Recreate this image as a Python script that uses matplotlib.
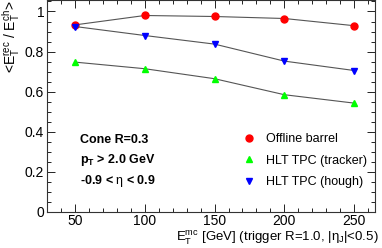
import matplotlib
matplotlib.use("Agg")
import matplotlib.pyplot as plt
from matplotlib.lines import Line2D
from matplotlib.ticker import MultipleLocator

plt.rcParams['font.family'] = ['Liberation Sans', 'DejaVu Sans']
plt.rcParams['mathtext.fontset'] = 'custom'
plt.rcParams['mathtext.rm'] = 'Liberation Sans'
plt.rcParams['mathtext.it'] = 'Liberation Sans'
plt.rcParams['mathtext.bf'] = 'Liberation Sans:bold'

et_mc = [50, 100, 150, 200, 250]
offline_barrel = [0.933, 0.980, 0.975, 0.965, 0.929]
hlt_tracker = [0.747, 0.714, 0.664, 0.584, 0.542]
hlt_hough = [0.925, 0.880, 0.837, 0.752, 0.705]

series = [
    ("Offline barrel", offline_barrel, "#ff0000", "o"),
    ("HLT TPC (tracker)", hlt_tracker, "#00ff00", "^"),
    ("HLT TPC (hough)", hlt_hough, "#0000ff", "v"),
]

fig = plt.figure(figsize=(3.82, 2.48), dpi=100)
ax = fig.add_axes([0.123, 0.147, 0.859, 0.851])

handles = []
for name, vals, col, mk in series:
    ax.plot(et_mc, vals, color="#555555", lw=0.8, marker=mk, ms=5,
            markerfacecolor=col, markeredgecolor=col, zorder=3)
    handles.append(Line2D([], [], ls="none", marker=mk, ms=5,
                          markerfacecolor=col, markeredgecolor=col))

ax.set_xlim(30, 265)
ax.set_ylim(0, 1.055)
ax.xaxis.set_major_locator(MultipleLocator(50))
ax.xaxis.set_minor_locator(MultipleLocator(10))
ax.yaxis.set_major_locator(MultipleLocator(0.2))
ax.yaxis.set_minor_locator(MultipleLocator(0.05))
ax.tick_params(which="both", direction="in", top=True, right=True,
               labelsize=10, pad=2, width=0.6)
ax.tick_params(which="major", length=6)
ax.tick_params(which="minor", length=3)
ax.set_yticks([0, 0.2, 0.4, 0.6, 0.8, 1.0])
ax.set_yticklabels(["0", "0.2", "0.4", "0.6", "0.8", "1"])
for s in ax.spines.values():
    s.set_linewidth(0.8)
    s.set_color("#333333")

ax.set_xlabel(r"E$_{\rm T}^{\rm mc}$ [GeV] (trigger R=1.0, |$\eta_{\rm J}$|<0.5)",
              fontsize=9.5, loc="right", labelpad=1)
ax.xaxis.set_label_coords(1.012, -0.085)
ax.set_ylabel(r"<E$_{\rm T}^{\rm rec}$ / E$_{\rm T}^{\rm ch}$>",
              fontsize=10, loc="top", labelpad=2)

ax.text(0.10, 0.338, "Cone R=0.3", transform=ax.transAxes,
        fontsize=9, fontweight="bold", va="center")
ax.text(0.10, 0.243, r"p$_{\bf T}$ > 2.0 GeV", transform=ax.transAxes,
        fontsize=9, fontweight="bold", va="center")
ax.text(0.10, 0.144, r"-0.9 < $\eta$ < 0.9", transform=ax.transAxes,
        fontsize=9, fontweight="bold", va="center")

ax.legend(handles, [s[0] for s in series], loc="upper left",
          bbox_to_anchor=(0.58, 0.395), frameon=False, fontsize=9,
          handlelength=1.0, handletextpad=0.9, labelspacing=0.75,
          borderaxespad=0)

fig.savefig("out.png", dpi=100)
